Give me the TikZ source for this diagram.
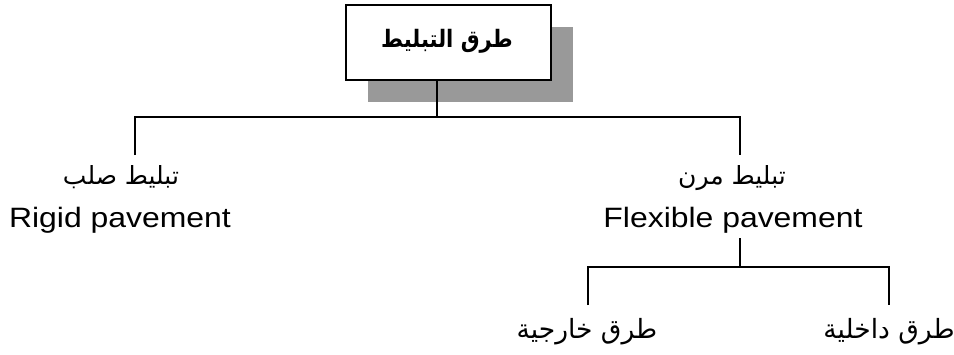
\documentclass[tikz,border=0pt]{standalone}
\usepackage{fontspec}
\setmainfont{Liberation Sans}
\newfontfamily\latinfont[FakeStretch=1.14]{Liberation Sans}
\newfontfamily\arabicfont[Script=Arabic]{DejaVu Sans}
\newfontfamily\arabictitle[Script=Arabic,FakeStretch=0.88]{DejaVu Sans Bold}
\TeXXeTstate=1
\begin{document}
\begin{tikzpicture}[x=1pt,y=-1pt,
  conn/.style={draw=black,line width=1.1pt},
  artext/.style={font=\arabicfont\fontsize{25}{30}\selectfont,inner sep=0pt,anchor=base},
  arlow/.style={font=\arabicfont\fontsize{26.5}{31}\selectfont,inner sep=0pt,anchor=base},
  latext/.style={font=\latinfont\fontsize{28}{33}\selectfont,inner sep=0pt,anchor=base},
  rootbox/.style={draw=black,line width=1.6pt,fill=white,minimum width=205pt,minimum height=75pt,inner sep=0pt},
  shadowbox/.style={fill=black!40,minimum width=205pt,minimum height=75pt,inner sep=0pt}]
\useasboundingbox (0,0) rectangle (954,354);
% shadow and root box
\node[shadowbox] (shadow) at (470.5,64.5) {};
\node[rootbox] (root) at (448.5,42.5) {};
\node[font=\arabictitle\fontsize{24}{28}\selectfont,inner sep=0pt,anchor=base] (title) at (447,47) {\beginR طرق التبليط\endR};
% level 1 labels
\node[artext] (rigidar) at (121,184) {\beginR تبليط صلب\endR};
\node[latext] (rigiden) at (120,227) {Rigid pavement};
\node[artext] (flexar) at (732,184) {\beginR تبليط مرن\endR};
\node[latext] (flexen) at (733,227) {Flexible pavement};
% level 2 labels
\node[arlow] (outer) at (587,338) {\beginR طرق خارجية\endR};
\node[arlow] (inner) at (889,338) {\beginR طرق داخلية\endR};
% connector coordinates
\coordinate (j0) at (437,117);
\coordinate (jl) at (135,117);
\coordinate (jr) at (740,117);
\coordinate (el) at (135,155);
\coordinate (er) at (740,155);
\coordinate (fs) at (740,238);
\coordinate (j1) at (740,267);
\coordinate (j1l) at (588,267);
\coordinate (j1r) at (889,267);
\coordinate (eo) at (588,305);
\coordinate (ei) at (889,305);
% connectors
\draw[conn] (root.south -| j0) -- (j0);
\draw[conn] (el) -- (jl) -- (jr) -- (er);
\draw[conn] (fs) -- (j1);
\draw[conn] (eo) -- (j1l) -- (j1r) -- (ei);
\end{tikzpicture}
\end{document}
